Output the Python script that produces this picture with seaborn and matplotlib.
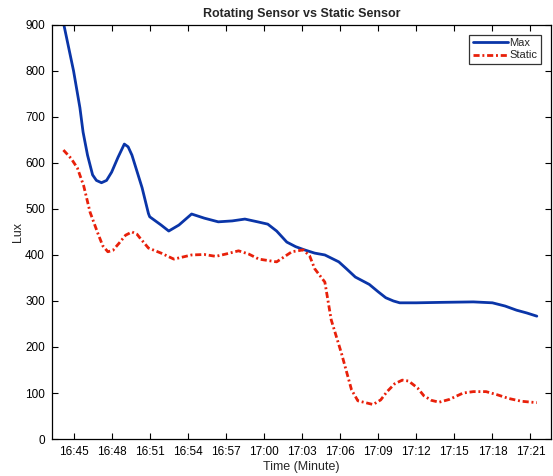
import matplotlib
matplotlib.use("Agg")
import matplotlib.pyplot as plt
import seaborn as sns
import pandas as pd

# minutes after 16:00
max_t = [44.2, 45.0, 45.5, 45.75, 46.1, 46.5, 46.8, 47.2, 47.6, 48.0, 48.5, 49.0, 49.3,
         49.6, 50.4, 50.9, 51.0, 51.9, 52.5, 53.3, 54.3, 55.3, 56.4, 57.5, 58.5, 59.5,
         60.3, 61.0, 61.8, 62.5, 63.2, 64.0, 64.8, 65.9, 66.5, 67.2, 68.3, 69.0, 69.6,
         70.2, 70.7, 72.0, 74.0, 76.5, 78.0, 79.0, 79.9, 80.7, 81.5]
max_lux = [905, 800, 720, 667, 617, 574, 562, 557, 562, 580, 612, 641, 635,
           617, 546, 490, 483, 465, 452, 465, 489, 480, 472, 474, 478, 472,
           467, 452, 428, 418, 411, 404, 400, 385, 370, 352, 336, 320, 307,
           300, 296, 296, 297, 298, 296, 289, 280, 274, 267]

static_t = [44.2, 44.8, 45.3, 45.8, 46.3, 46.9, 47.3, 47.7, 48.1, 48.6, 49.1, 49.6, 50.0,
            50.2, 50.9, 51.9, 52.9, 54.3, 55.3, 56.2, 57.0, 58.0, 58.8, 59.6, 61.0, 62.2,
            63.1, 63.6, 64.0, 64.8, 65.3, 66.1, 66.9, 67.4, 68.6, 69.2, 69.7, 70.3, 70.9,
            71.4, 72.1, 72.6, 73.2, 73.8, 74.6, 75.7, 76.5, 77.5, 78.4, 79.3, 80.3, 81.5]
static_lux = [628, 610, 589, 550, 493, 448, 420, 407, 410, 426, 443, 450, 445,
              438, 415, 404, 391, 400, 401, 397, 402, 409, 402, 391, 385, 407,
              411, 398, 370, 341, 259, 187, 107, 83, 75, 85, 103, 120, 128,
              126, 111, 94, 84, 80, 86, 100, 103, 103, 96, 88, 82, 79]

tick_pos = [45, 48, 51, 54, 57, 60, 63, 66, 69, 72, 75, 78, 81]
tick_labels = ["16:45", "16:48", "16:51", "16:54", "16:57", "17:00", "17:03",
               "17:06", "17:09", "17:12", "17:15", "17:18", "17:21"]
y_ticks = [0, 100, 200, 300, 400, 500, 600, 700, 800, 900]

sns.set_theme(style="white")
plt.rcParams['font.family'] = ['Liberation Sans', 'DejaVu Sans']

df_max = pd.DataFrame({"t": max_t, "lux": max_lux})
df_static = pd.DataFrame({"t": static_t, "lux": static_lux})

fig = plt.figure(figsize=(5.53, 4.76), dpi=100)
ax = fig.add_axes([0.094, 0.0777, 0.902, 0.87])

sns.lineplot(data=df_max, x="t", y="lux", ax=ax, color="#0a35a8", linewidth=2.0,
             label="Max")
sns.lineplot(data=df_static, x="t", y="lux", ax=ax, color="#e8200a", linewidth=2.0,
             linestyle=(0, (2.2, 1.0, 0.7, 1.0)), label="Static")
for ln in ax.get_lines():
    ln.set_solid_joinstyle("round")
    ln.set_dash_joinstyle("round")

ax.set_xlim(43.3, 82.6)
ax.set_ylim(0, 900)
ax.set_xticks(tick_pos)
ax.set_xticklabels(tick_labels)
ax.set_yticks(y_ticks)
ax.tick_params(direction="in", length=4, width=0.8, labelsize=8.5, colors="black",
               top=True, right=True, bottom=True, left=True, pad=5)
ax.tick_params(axis="x", labeltop=False)
ax.tick_params(axis="y", labelright=False)
for s in ax.spines.values():
    s.set_visible(True)
    s.set_color("black")
    s.set_linewidth(0.9)

ax.set_xlabel("Time (Minute)", fontsize=9, labelpad=2)
ax.set_ylabel("Lux", fontsize=9, labelpad=1)
ax.set_title("Rotating Sensor vs Static Sensor", fontsize=9, fontweight="bold", pad=6)

leg = ax.legend(loc="upper right", fontsize=8, frameon=True, fancybox=False,
                borderpad=0.3, handlelength=3.2, handletextpad=0.1, labelspacing=0.2,
                borderaxespad=0.9)
leg.get_frame().set_edgecolor("black")
leg.get_frame().set_linewidth(0.9)

fig.savefig("out.png", dpi=100, facecolor="white")
